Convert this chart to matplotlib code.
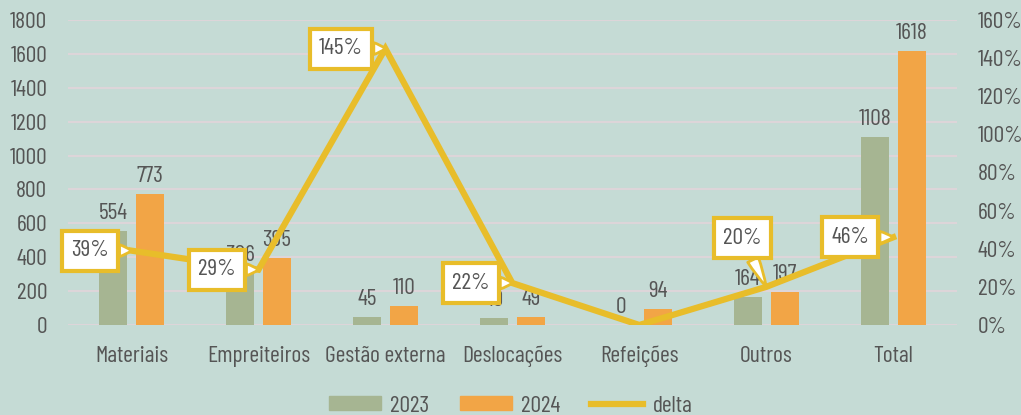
import numpy as np
import matplotlib.pyplot as plt
from matplotlib.lines import Line2D
from matplotlib.patches import Patch

plt.rcParams['font.family'] = ['Barlow Condensed', 'DejaVu Sans']

# data
categories = ['Materiais', 'Empreiteiros', 'Gestão externa', 'Deslocações', 'Refeições', 'Outros', 'Total']
v2023 = [554, 306, 45, 40, 0, 164, 1108]
v2024 = [773, 395, 110, 49, 94, 197, 1618]
delta = [0.39, 0.29, 1.45, 0.22, 0.0, 0.20, 0.46]
delta_labels = ['39%', '29%', '145%', '22%', None, '20%', '46%']

# colours
bg = '#c5dbd5'
txt = '#555555'
c2023 = '#a6b592'
c2024 = '#f2a546'
cline = '#e8bd2a'
grid = '#ddd5d9'
fs = 17

fig = plt.figure(figsize=(10.21, 4.15), dpi=100, facecolor=bg)
ax = fig.add_axes([0.0666, 0.2169, 0.8704, 0.7349])
ax.set_facecolor(bg)
ax2 = ax.twinx()

x = np.arange(len(categories))
w = 0.22
off = 0.145

b1 = ax.bar(x - off, v2023, w, color=c2023, zorder=2)
b2 = ax.bar(x + off, v2024, w, color=c2024, zorder=2)

for rect, v in list(zip(b1, v2023)) + list(zip(b2, v2024)):
    ax.annotate(str(v), (rect.get_x() + rect.get_width() / 2, rect.get_height()),
                xytext=(0, 5), textcoords='offset points', ha='center', va='bottom',
                fontsize=fs, color=txt)

ax.set_ylim(0, 1800)
ax.set_yticks(range(0, 1801, 200))
ax.set_xlim(-0.5, len(categories) - 0.5)
ax.set_xticks(x)
ax.set_xticklabels(categories)
ax.grid(axis='y', color=grid, lw=1.5, zorder=0)
ax.set_axisbelow(True)

ax2.plot(x, delta, color=cline, lw=4.5, solid_joinstyle='miter', zorder=3)
ax2.set_ylim(0, 1.6)
ax2.set_yticks(np.arange(0, 1.61, 0.2))
ax2.set_yticklabels([f'{int(round(t * 100))}%' for t in np.arange(0, 1.61, 0.2)])

# callout boxes
offsets = [(-30, 0), (-30, 0), (-32, 0), (-30, 0), None, (-17, 35), (-31, 0)]
for xi, d, lab, o in zip(x, delta, delta_labels, offsets):
    if lab is None:
        continue
    ax2.annotate(lab, (xi, d), xytext=o, textcoords='offset points',
                 ha='center', va='center', fontsize=fs, color=txt, zorder=5,
                 bbox=dict(boxstyle='square,pad=0.4', fc='white', ec=cline, lw=3),
                 arrowprops=dict(arrowstyle='wedge,tail_width=0.5,shrink_factor=0.6',
                                 fc='white', ec=cline, lw=2, shrinkA=0, shrinkB=0))

for a in (ax, ax2):
    for s in a.spines.values():
        s.set_visible(False)
    a.tick_params(length=0, labelsize=fs, labelcolor=txt)
ax.tick_params(axis='y', pad=15)
ax.tick_params(axis='x', pad=15)
ax2.tick_params(axis='y', pad=15)

handles = [Patch(color=c2023), Patch(color=c2024), Line2D([], [], color=cline, lw=4.5)]
fig.legend(handles, ['2023', '2024', 'delta'], loc='lower center', ncol=3,
           frameon=False, fontsize=fs, labelcolor=txt, handlelength=2.2,
           handleheight=0.55, handletextpad=0.4, columnspacing=1.3,
           bbox_to_anchor=(0.5, -0.055))

fig.savefig('out.png', dpi=100, facecolor=bg)
